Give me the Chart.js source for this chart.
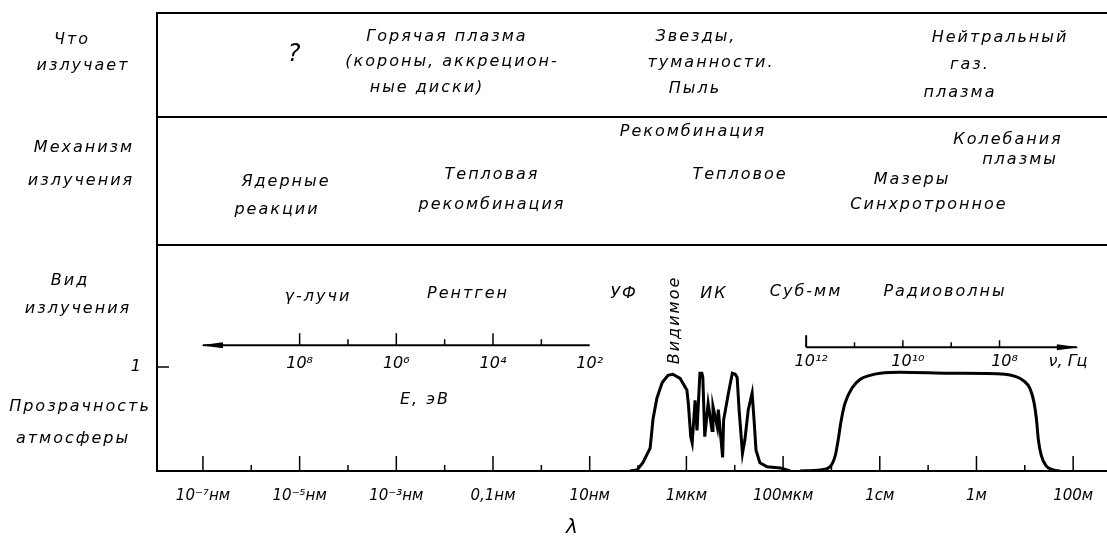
<!DOCTYPE html>
<html>
<head>
<meta charset="utf-8">
<title>Электромагнитный спектр</title>
<script src="https://cdn.jsdelivr.net/npm/chart.js@4/dist/chart.umd.min.js"></script>
<style>
  html, body { margin: 0; padding: 0; background: #fff; }
  #wrap { width: 1107px; height: 541px; position: relative; }
</style>
</head>
<body>
<div id="wrap"><canvas id="spectrum"></canvas></div>
<script>
// wavelength axis, log10 of lambda in metres
const waveTicks = [-16, -14, -12, -10, -8, -6, -4, -2, 0, 2];
const waveLabels = ['10⁻⁷нм', '10⁻⁵нм', '10⁻³нм', '0,1нм', '10нм', '1мкм', '100мкм', '1см', '1м', '100м'];

// photon energy scale, log10 E in eV
const energyMajor = [8, 6, 4, 2];
const energyMinor = [7, 5, 3];
const energyLabels = ['10⁸', '10⁶', '10⁴', '10²'];

// frequency scale, log10 nu in Hz
const freqMajor = [12, 10, 8];
const freqMinor = [11, 9];
const freqLabels = ['10¹²', '10¹⁰', '10⁸'];

// atmospheric transparency: optical / IR window
const opticalLogL = [-7.17, -7.02, -6.90, -6.75, -6.69, -6.61, -6.50, -6.38, -6.28, -6.13, -5.99, -5.96,
  -5.91, -5.88, -5.82, -5.78, -5.72, -5.68, -5.66, -5.62, -5.55, -5.47, -5.45, -5.36, -5.34, -5.25, -5.23,
  -5.13, -5.05, -4.99, -4.95, -4.91, -4.84, -4.79, -4.72, -4.64, -4.60, -4.56, -4.48, -4.33, -4.06, -3.85];
const opticalT = [0, 0.01, 0.08, 0.22, 0.5, 0.7, 0.85, 0.92, 0.93, 0.89, 0.78, 0.65,
  0.33, 0.27, 0.68, 0.39, 0.94, 0.94, 0.9, 0.33, 0.65, 0.39, 0.62, 0.42, 0.59, 0.13, 0.49,
  0.75, 0.94, 0.93, 0.9, 0.59, 0.17, 0.3, 0.59, 0.75, 0.49, 0.2, 0.08, 0.04, 0.03, 0];

// radio window
const radioLogL = [-3.65, -3.23, -3.03, -2.92, -2.86, -2.80, -2.72, -2.57, -2.41, -2.20, -1.99, -1.58,
  -0.54, 0.59, 0.80, 0.97, 1.11, 1.19, 1.24, 1.28, 1.34, 1.44, 1.59, 1.73];
const radioT = [0, 0.01, 0.04, 0.15, 0.3, 0.48, 0.65, 0.8, 0.88, 0.92, 0.94, 0.95,
  0.94, 0.93, 0.91, 0.87, 0.79, 0.66, 0.5, 0.3, 0.15, 0.05, 0.01, 0];

const FONT = '"DejaVu Sans", sans-serif';
const rowLines = [117, 245];

// captions of the table: [text, centre x, centre y]
const captions = [
  ['Что', 72, 40], ['излучает', 83, 66],
  ['Механизм', 84, 148], ['излучения', 81, 181],
  ['Вид', 70, 281], ['излучения', 78, 309],
  ['Прозрачность', 80, 407], ['атмосферы', 73, 439],

  ['Горячая плазма', 447, 37], ['(короны, аккрецион-', 452, 62], ['ные диски)', 427, 88],
  ['Звезды,', 696, 37], ['туманности.', 711, 63], ['Пыль', 695, 89],
  ['Нейтральный', 1000, 38], ['газ.', 970, 65], ['плазма', 960, 93],

  ['Рекомбинация', 693, 132], ['Колебания', 1008, 140], ['плазмы', 1020, 160],
  ['Ядерные', 286, 182], ['реакции', 277, 210],
  ['Тепловая', 492, 175], ['рекомбинация', 492, 205],
  ['Тепловое', 740, 175],
  ['Мазеры', 912, 180], ['Синхротронное', 929, 205],

  ['γ-лучи', 318, 297], ['Рентген', 468, 294], ['УФ', 624, 294], ['ИК', 714, 294],
  ['Суб-мм', 806, 292], ['Радиоволны', 945, 292],
  ['E, эВ', 425, 400]
];

function toPoints(xs, ys) {
  return xs.map((v, i) => ({ x: v, y: ys[i] }));
}

function seg(ctx, x1, y1, x2, y2) {
  ctx.beginPath();
  ctx.moveTo(x1, y1);
  ctx.lineTo(x2, y2);
  ctx.stroke();
}

// drop the half-label margins the scales reserve at their ends
function noEndPadding(s) {
  s.paddingTop = 0;
  s.paddingBottom = 0;
  s.paddingLeft = 0;
  s.paddingRight = 0;
}

const decor = {
  id: 'decor',
  afterDraw(chart) {
    const { ctx, chartArea: a, scales: { x, y } } = chart;
    ctx.save();
    ctx.strokeStyle = '#000';
    ctx.fillStyle = '#000';
    ctx.lineWidth = 2;

    // top edge and row separators
    seg(ctx, a.left - 1, a.top, a.right, a.top);
    rowLines.forEach(py => seg(ctx, a.left, py, a.right, py));

    // inward ticks on the wavelength axis
    ctx.lineWidth = 1.5;
    for (let v = -16; v <= 2; v++) {
      const px = x.getPixelForValue(v);
      seg(ctx, px, a.bottom, px, a.bottom - (v % 2 === 0 ? 15 : 6));
    }
    // tick for transparency = 1
    const y1 = y.getPixelForValue(1);
    seg(ctx, a.left, y1, a.left + 12, y1);

    // energy scale, lambda = hc/E
    const ey = y.getPixelForValue(1.21);
    const ex = e => x.getPixelForValue(-6 - e);
    ctx.lineWidth = 2;
    seg(ctx, ex(10), ey, ex(2), ey);
    ctx.beginPath();
    ctx.moveTo(ex(10) - 2, ey);
    ctx.lineTo(ex(10) + 20, ey - 3);
    ctx.lineTo(ex(10) + 20, ey + 3);
    ctx.closePath();
    ctx.fill();
    ctx.lineWidth = 1.5;
    energyMajor.slice(0, 3).forEach(e => seg(ctx, ex(e), ey, ex(e), ey - 12));
    energyMinor.forEach(e => seg(ctx, ex(e), ey, ex(e), ey - 6));

    // frequency scale, lambda = c/nu
    const fy = y.getPixelForValue(1.19);
    const fx = n => x.getPixelForValue(Math.log10(3e8) - n);
    ctx.lineWidth = 2;
    seg(ctx, fx(12), fy, fx(6.4), fy);
    seg(ctx, fx(12), fy, fx(12), fy - 12);
    ctx.beginPath();
    ctx.moveTo(fx(6.4) + 2, fy);
    ctx.lineTo(fx(6.4) - 20, fy - 3);
    ctx.lineTo(fx(6.4) - 20, fy + 3);
    ctx.closePath();
    ctx.fill();
    ctx.lineWidth = 1.5;
    freqMajor.slice(1).forEach(n => seg(ctx, fx(n), fy, fx(n), fy - 7));
    freqMinor.forEach(n => seg(ctx, fx(n), fy, fx(n), fy - 5));

    // texts
    ctx.textAlign = 'center';
    ctx.textBaseline = 'middle';
    ctx.font = `italic 16px ${FONT}`;
    energyMajor.forEach((e, i) => ctx.fillText(energyLabels[i], ex(e), ey + 19));
    freqMajor.forEach((n, i) => ctx.fillText(freqLabels[i], fx(n) + 5, fy + 15));
    ctx.fillText('ν, Гц', 1068, fy + 15);

    ctx.letterSpacing = '2px';
    captions.forEach(([s, cx, cy]) => ctx.fillText(s, cx, cy));

    ctx.font = `italic 24px ${FONT}`;
    ctx.fillText('?', 295, 55);
    ctx.font = `italic 20px ${FONT}`;
    ctx.fillText('λ', 573, 528);

    // visible band label, written upwards
    ctx.font = `italic 16px ${FONT}`;
    ctx.translate(675, 320);
    ctx.rotate(-Math.PI / 2);
    ctx.fillText('Видимое', 0, 0);
    ctx.restore();
  }
};

new Chart(document.getElementById('spectrum'), {
  type: 'line',
  data: {
    datasets: [
      {
        data: toPoints(opticalLogL, opticalT),
        borderColor: '#000',
        borderWidth: 3,
        pointRadius: 0,
        tension: 0
      },
      {
        data: toPoints(radioLogL, radioT),
        borderColor: '#000',
        borderWidth: 3,
        pointRadius: 0,
        cubicInterpolationMode: 'monotone'
      }
    ]
  },
  options: {
    responsive: true,
    maintainAspectRatio: false,
    animation: false,
    layout: { padding: { top: 13, right: 0, left: 0, bottom: 0 } },
    plugins: { legend: { display: false }, tooltip: { enabled: false } },
    scales: {
      x: {
        type: 'linear',
        min: -16.95,
        max: 2.70,
        afterFit: s => { s.height = 70; noEndPadding(s); },
        afterBuildTicks: s => { s.ticks = waveTicks.map(v => ({ value: v })); },
        grid: { display: true, drawOnChartArea: false, drawTicks: false },
        border: { display: true, color: '#000', width: 2 },
        ticks: {
          padding: 16,
          color: '#000',
          maxRotation: 0,
          autoSkip: false,
          font: { family: FONT, size: 15, style: 'italic' },
          callback: v => waveLabels[waveTicks.indexOf(v)]
        }
      },
      y: {
        min: 0,
        max: 4.404,
        afterFit: s => { s.width = 157; noEndPadding(s); },
        afterBuildTicks: s => { s.ticks = [{ value: 1 }]; },
        grid: { display: true, drawOnChartArea: false, drawTicks: false },
        border: { display: true, color: '#000', width: 2 },
        ticks: {
          padding: 16,
          color: '#000',
          font: { family: FONT, size: 16, style: 'italic' },
          callback: v => String(v)
        }
      }
    }
  },
  plugins: [decor]
});
</script>
</body>
</html>
